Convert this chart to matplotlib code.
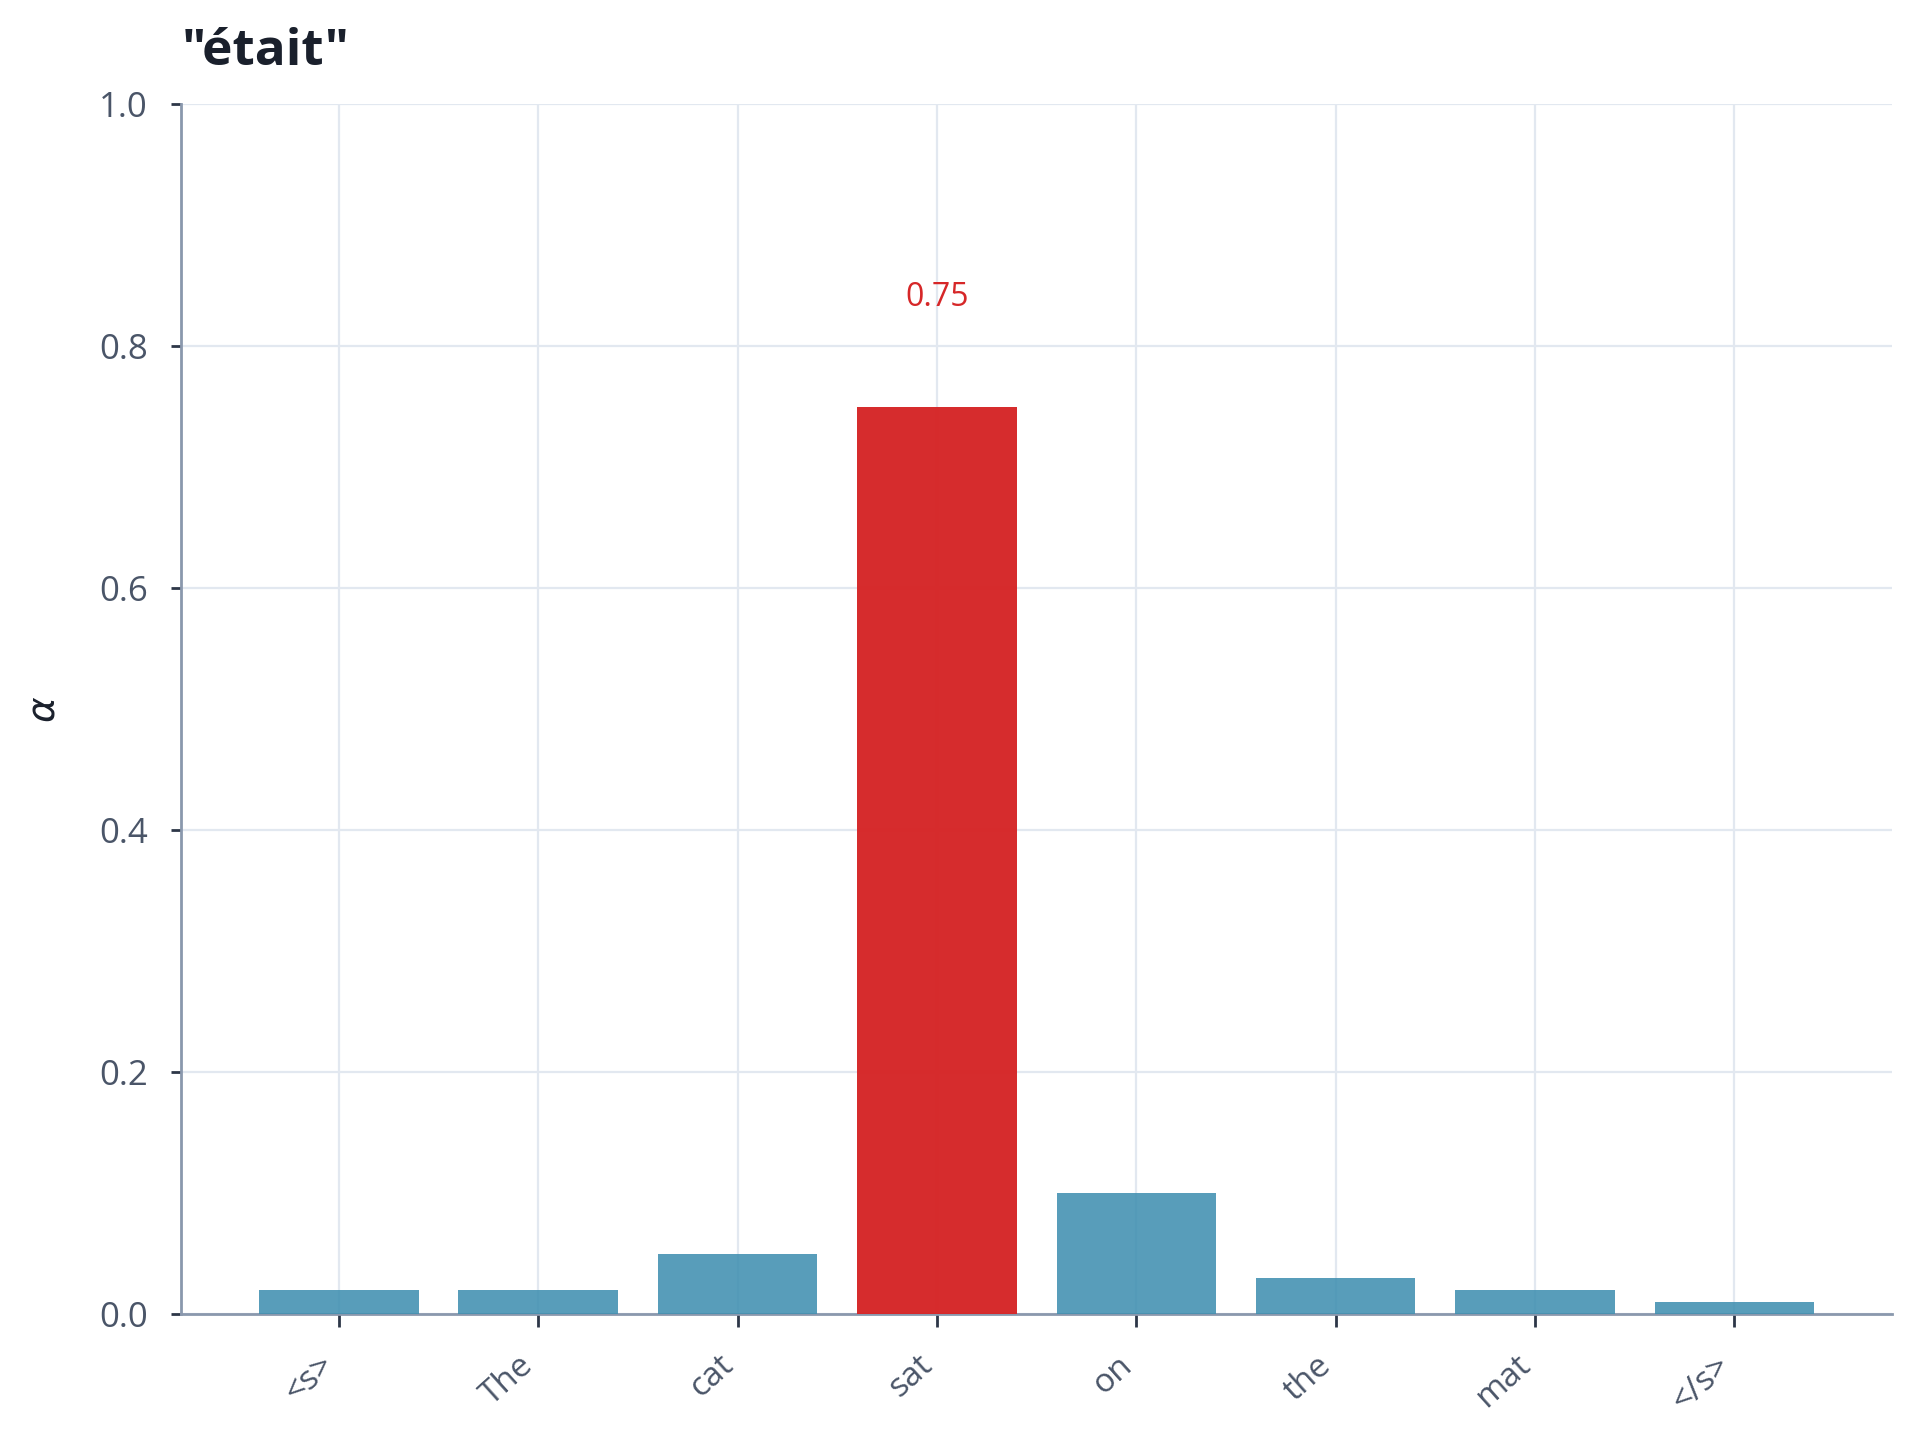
import matplotlib.pyplot as plt
from matplotlib.transforms import ScaledTranslation

tokens = ["<s>", "The", "cat", "sat", "on", "the", "mat", "</s>"]
weights = [0.02, 0.02, 0.05, 0.75, 0.10, 0.03, 0.02, 0.01]
focus = 3  # index of the highlighted token
title = '"était"'

plt.rcParams['font.family'] = ['Open Sans', 'DejaVu Sans']
plt.rcParams['mathtext.fontset'] = 'dejavusans'

fig = plt.figure(figsize=(19.2, 14.48), dpi=100)
ax = fig.add_axes([0.0944, 0.0925, 0.891, 0.8355])

colors = ['#d62728' if i == focus else '#3f8fb0' for i in range(len(tokens))]
alphas = [0.98 if i == focus else 0.87 for i in range(len(tokens))]
bars = ax.bar(range(len(tokens)), weights, width=0.8, color=colors, zorder=3)
for b, a in zip(bars, alphas):
    b.set_alpha(a)

ax.text(focus, weights[focus] + 0.09, f"{weights[focus]:.2f}", color='#d62728',
        ha='center', va='center', fontsize=23, zorder=4)

ax.set_xlim(-0.79, len(tokens) - 0.21)
ax.set_ylim(0, 1.0)
ax.set_xticks(range(len(tokens)))
ax.set_xticklabels(tokens, rotation=42, ha='right', rotation_mode='anchor')
ax.set_yticks([0, 0.2, 0.4, 0.6, 0.8, 1.0])
ax.set_yticklabels(["0.0", "0.2", "0.4", "0.6", "0.8", "1.0"])

ax.grid(True, color='#e2e8f0', linewidth=1.6, zorder=0)
ax.set_axisbelow(True)
for s in ['top', 'right']:
    ax.spines[s].set_visible(False)
for s in ['left', 'bottom']:
    ax.spines[s].set_color('#8a98ad')
    ax.spines[s].set_linewidth(2)

ax.tick_params(axis='x', length=9, width=2, color='#2d3748', labelcolor='#4a5568',
               labelsize=24, pad=16)
ax.tick_params(axis='y', length=7, width=2, color='#2d3748', labelcolor='#4a5568',
               labelsize=25, pad=17)

# nudge rotated labels left so they end just before the tick
shift = ScaledTranslation(-0.2, 0, fig.dpi_scale_trans)
for lab in ax.get_xticklabels():
    lab.set_transform(lab.get_transform() + shift)

ax.set_ylabel(r'$\alpha$', fontsize=28, color='#1a202c', labelpad=26)
ax.set_title(title, loc='left', fontsize=37, fontweight='bold', color='#1a202c', pad=28)

fig.savefig('out.png', dpi=100)
